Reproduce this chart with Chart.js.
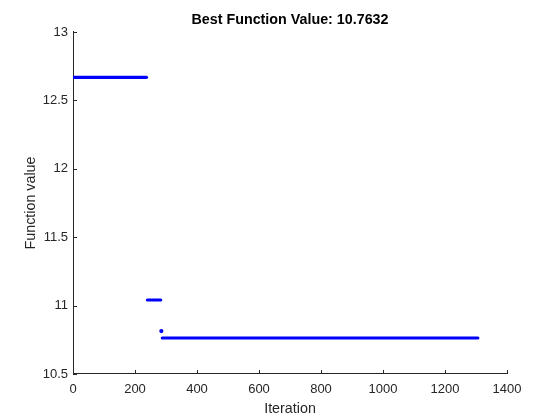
<!DOCTYPE html>
<html>
<head>
<meta charset="utf-8">
<script src="https://cdn.jsdelivr.net/npm/chart.js@4.4.1/dist/chart.umd.min.js"></script>
<style>
    html, body { margin: 0; padding: 0; background: #ffffff; }
    canvas { display: block; }
</style>
</head>
<body>
<canvas id="chartBest" width="560" height="420"></canvas>
<script>
// Plateaus of the best value (iteration start, iteration end, value)
const runStart = [1, 240, 285, 288];
const runEnd = [237, 283, 285, 1306];
const runValue = [12.6683, 11.0410, 10.8135, 10.7632];

const xTicks = [0, 200, 400, 600, 800, 1000, 1200, 1400];
const xTickLabels = ['0', '200', '400', '600', '800', '1000', '1200', '1400'];
const yTicks = [10.5, 11, 11.5, 12, 12.5, 13];
const yTickLabels = ['10.5', '11', '11.5', '12', '12.5', '13'];

const AXIS_COLOR = '#262626';
const LINE_COLOR = '#0000ff';
const FONT = "'Liberation Sans', Arial, Helvetica, sans-serif";

// ticks MATLAB style: drawn inside the axes
const innerTicks = {
    id: 'innerTicks',
    afterDatasetsDraw(chart) {
        const { ctx, chartArea, scales } = chart;
        ctx.save();
        ctx.strokeStyle = AXIS_COLOR;
        ctx.lineWidth = 1;
        ctx.beginPath();
        xTicks.forEach(v => {
            const px = Math.round(scales.x.getPixelForValue(v)) + 0.5;
            ctx.moveTo(px, chartArea.bottom);
            ctx.lineTo(px, chartArea.bottom - 4);
        });
        yTicks.forEach(v => {
            const py = Math.round(scales.y.getPixelForValue(v)) + 0.5;
            ctx.moveTo(chartArea.left, py);
            ctx.lineTo(chartArea.left + 4, py);
        });
        ctx.stroke();
        ctx.restore();
    }
};

function buildDatasets() {
    return runStart.map((s, i) => {
        const single = s === runEnd[i];
        return {
            data: single ? [{ x: s, y: runValue[i] }] : [{ x: s, y: runValue[i] }, { x: runEnd[i], y: runValue[i] }],
            showLine: !single,
            borderColor: LINE_COLOR,
            backgroundColor: LINE_COLOR,
            borderWidth: 3.2,
            borderCapStyle: 'round',
            pointRadius: single ? 2.1 : 0,
            pointBorderWidth: 0
        };
    });
}

Chart.defaults.font.family = FONT;
Chart.defaults.color = AXIS_COLOR;

const ctx = document.getElementById('chartBest').getContext('2d');
new Chart(ctx, {
    type: 'scatter',
    data: { datasets: buildDatasets() },
    options: {
        responsive: false,
        animation: false,
        devicePixelRatio: 1,
        layout: { padding: { left: 0, right: 53, top: 0, bottom: 0 } },
        plugins: {
            legend: { display: false },
            tooltip: { enabled: false },
            title: {
                display: true,
                fullSize: false,
                text: 'Best Function Value: 10.7632',
                color: '#000000',
                font: { size: 14.3, weight: 'bold', family: FONT },
                padding: { top: 11.4, bottom: 3.4 }
            }
        },
        scales: {
            x: {
                type: 'linear',
                min: 0,
                max: 1400,
                afterFit: s => { s.height = 46; },
                afterBuildTicks: s => { s.ticks = xTicks.map(v => ({ value: v })); },
                grid: { display: false, drawTicks: false },
                border: { display: true, color: AXIS_COLOR, width: 1 },
                ticks: {
                    color: AXIS_COLOR,
                    font: { size: 13 },
                    padding: 8,
                    maxRotation: 0,
                    autoSkip: false,
                    callback: (v, i) => xTickLabels[i]
                },
                title: {
                    display: true,
                    text: 'Iteration',
                    color: AXIS_COLOR,
                    font: { size: 14.3 },
                    padding: { top: 0, bottom: 2 }
                }
            },
            y: {
                type: 'linear',
                min: 10.5,
                max: 13,
                afterFit: s => { s.width = 73; },
                afterBuildTicks: s => { s.ticks = yTicks.map(v => ({ value: v })); },
                grid: { display: false, drawTicks: false },
                border: { display: true, color: AXIS_COLOR, width: 1 },
                ticks: {
                    color: AXIS_COLOR,
                    font: { size: 13 },
                    padding: 5,
                    autoSkip: false,
                    callback: (v, i) => yTickLabels[i]
                },
                title: {
                    display: true,
                    text: 'Function value',
                    color: AXIS_COLOR,
                    font: { size: 14.3 },
                    padding: { top: 22, bottom: 0 }
                }
            }
        }
    },
    plugins: [innerTicks]
});
</script>
</body>
</html>
